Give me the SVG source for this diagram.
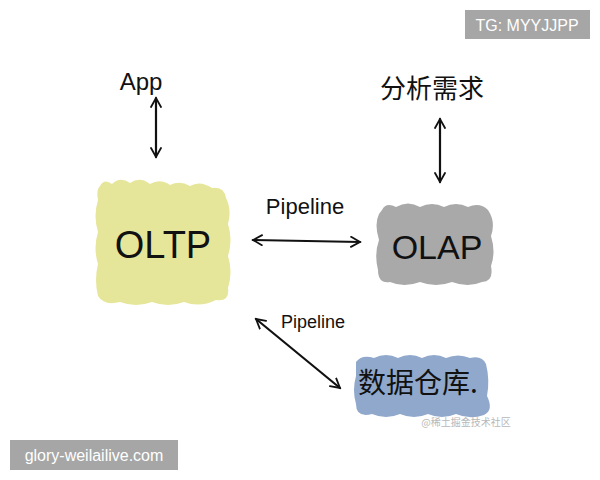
<svg xmlns="http://www.w3.org/2000/svg" width="600" height="480" viewBox="0 0 600 480">
<defs>
<style>
.hand{font-family:"Liberation Sans","DejaVu Sans",sans-serif;fill:#111;}
.cjk{font-family:"Noto Sans CJK SC","Liberation Sans",sans-serif;fill:#111;}
.wm{font-family:"Liberation Sans","DejaVu Sans",sans-serif;fill:#fff;}
.conn{stroke:#111;stroke-width:2.2;fill:none;stroke-linecap:round;stroke-linejoin:round;}
</style>
<marker id="ah" viewBox="0 0 12 12" refX="10" refY="6" markerWidth="12" markerHeight="12" markerUnits="userSpaceOnUse" orient="auto-start-reverse">
<path d="M1,1 L10,6 L1,11" fill="none" stroke="#111" stroke-width="1.8" stroke-linecap="round"/>
</marker>
</defs>
<rect width="600" height="480" fill="#fff"/>

<g id="oltp">
<path d="M100,186 Q104,178 112,184 Q120,176 130,183 Q140,176 150,184 Q160,178 170,185 Q180,180 190,186 Q200,180 212,188 Q224,186 226,198 Q232,210 228,224 Q233,240 228,256 Q233,272 228,288 Q230,302 216,300 Q200,308 184,302 Q168,308 152,302 Q136,308 120,302 Q104,306 98,296 Q94,280 98,264 Q93,248 98,232 Q93,216 98,200 Q96,190 100,186 Z" fill="#e6e69a"/>
<text class="hand" x="163" y="258" font-size="38" text-anchor="middle">OLTP</text>
</g>

<g id="olap">
<path d="M382,210 Q386,202 396,207 Q408,200 420,207 Q432,201 444,207 Q456,201 468,207 Q480,202 488,210 Q496,222 491,236 Q496,252 491,266 Q494,282 482,282 Q468,288 452,282 Q436,288 420,282 Q404,288 390,282 Q378,284 378,270 Q374,254 379,240 Q374,224 379,214 Z" fill="#a9a9a9"/>
<text class="hand" x="437" y="259" font-size="34" text-anchor="middle">OLAP</text>
</g>

<g id="dw">
<path d="M356,362 Q362,354 374,358 Q386,352 398,358 Q410,352 422,358 Q434,352 446,358 Q458,353 470,358 Q482,355 486,364 Q490,380 487,396 Q494,410 484,415 Q470,420 456,414 Q442,420 428,414 Q414,420 400,414 Q386,420 372,414 Q356,418 356,404 Q352,390 356,376 Z" fill="#8fa8cb"/>
<text class="cjk" x="418" y="393" font-size="28" text-anchor="middle">数据仓库.</text>
<text x="466" y="426" font-size="10" text-anchor="middle" font-family="Noto Sans CJK SC,sans-serif" fill="#b8b8b8">@稀土掘金技术社区</text>
</g>

<g id="app">
<text class="hand" x="141" y="90" font-size="24" text-anchor="middle">App</text>
</g>

<g id="analysis">
<text class="cjk" x="432" y="98" font-size="26" text-anchor="middle">分析需求</text>
</g>

<g id="connectors">
<line class="conn" x1="156" y1="98" x2="156" y2="157" marker-start="url(#ah)" marker-end="url(#ah)"/>
<line class="conn" x1="440" y1="119" x2="440" y2="182" marker-start="url(#ah)" marker-end="url(#ah)"/>
<line class="conn" x1="253" y1="240" x2="360" y2="242" marker-start="url(#ah)" marker-end="url(#ah)"/>
<line class="conn" x1="256" y1="319" x2="340" y2="388" marker-start="url(#ah)" marker-end="url(#ah)"/>
<text class="hand" x="305" y="214" font-size="22" text-anchor="middle">Pipeline</text>
<text class="hand" x="313" y="328" font-size="18" text-anchor="middle">Pipeline</text>
</g>

<g id="tg">
<rect x="465" y="10" width="125" height="29" fill="#a6a6a6"/>
<text class="wm" x="527" y="31" font-size="16" text-anchor="middle">TG: MYYJJPP</text>
</g>
<g id="site">
<rect x="10" y="440" width="168" height="30" fill="#a6a6a6"/>
<text class="wm" x="94" y="461" font-size="16" text-anchor="middle">glory-weilailive.com</text>
</g>
</svg>
